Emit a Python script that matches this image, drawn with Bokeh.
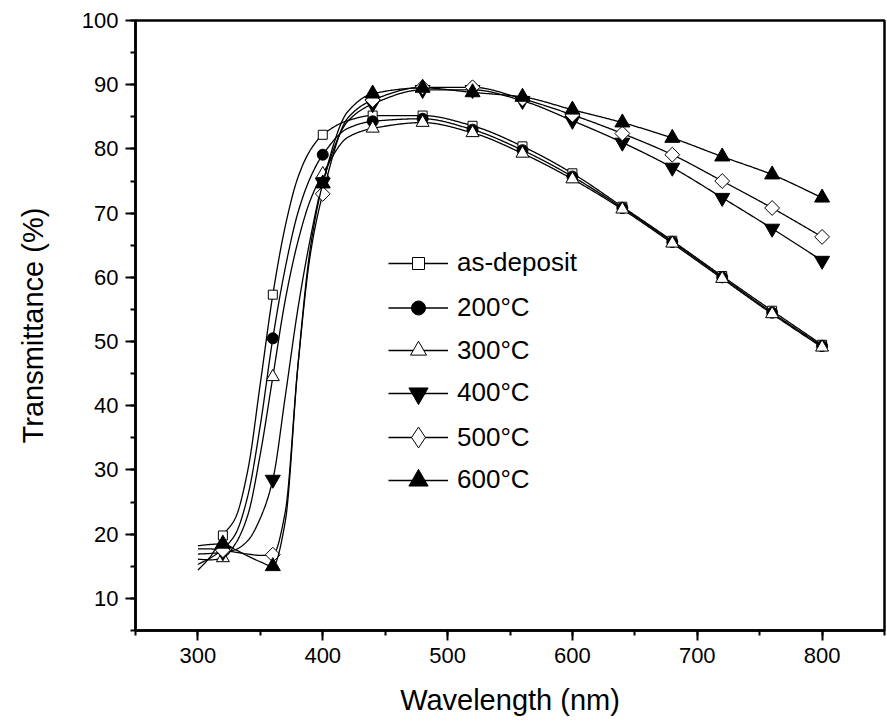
import numpy as np
from bokeh.plotting import figure
from bokeh.models import Range1d, SingleIntervalTicker, Legend, LegendItem, ColumnDataSource
from bokeh.embed import file_html
from bokeh.resources import INLINE

# ---- data ----
# wavelengths at which each spectrum was read (nm)
wavelength = [300, 310, 320, 330, 340, 350, 360, 370, 380, 390, 400, 420, 440,
              480, 520, 560, 600, 640, 680, 720, 760, 800]
# wavelengths that carry a symbol
symbol_wavelength = [320, 360, 400, 440, 480, 520, 560, 600, 640, 680, 720, 760, 800]

as_deposit = [14.4, 16.5, 19.8, 22.5, 30.0, 43.5, 57.3, 68.0, 75.5, 79.8, 82.2, 84.4, 85.2,
              85.2, 83.6, 80.4, 76.2, 71.0, 65.7, 60.2, 54.8, 49.5]
t200 = [15.3, 16.3, 17.7, 20.0, 26.0, 37.0, 50.5, 61.5, 70.0, 75.5, 79.1, 83.2, 84.3,
        84.7, 83.0, 79.8, 75.7, 70.8, 65.5, 60.0, 54.5, 49.3]
t300 = [16.1, 16.0, 16.3, 18.5, 23.0, 32.5, 44.5, 56.5, 65.5, 72.0, 76.1, 81.8, 83.2,
        84.1, 82.5, 79.3, 75.3, 70.6, 65.3, 59.8, 54.3, 49.1]
t400 = [16.9, 17.0, 17.2, 17.6, 19.0, 22.5, 28.5, 41.5, 55.0, 66.0, 74.8, 84.3, 87.0,
        89.2, 89.2, 87.5, 84.4, 81.0, 77.1, 72.4, 67.6, 62.6]
t500 = [17.7, 17.7, 17.5, 17.2, 16.9, 16.7, 16.8, 23.5, 46.0, 63.5, 73.0, 84.8, 87.6,
        89.6, 89.6, 87.8, 85.3, 82.4, 79.1, 75.0, 70.8, 66.3]
t600 = [18.2, 18.4, 18.5, 17.6, 16.6, 15.7, 15.0, 22.0, 46.0, 64.5, 74.6, 85.8, 88.6,
        89.5, 88.8, 88.1, 86.1, 84.1, 81.7, 78.8, 76.0, 72.4]
labels = ["as-deposit", "200°C", "300°C", "400°C", "500°C", "600°C"]
series = [as_deposit, t200, t300, t400, t500, t600]

FONT = "Liberation Sans"


def pchip(x, y, xs):
    """Monotone cubic (Fritsch-Carlson) curve through the read points."""
    x = np.asarray(x, float)
    y = np.asarray(y, float)
    h = np.diff(x)
    d = np.diff(y) / h
    n = len(x)
    m = np.zeros(n)
    for i in range(1, n - 1):
        if d[i - 1] * d[i] <= 0:
            m[i] = 0.0
        else:
            w1 = 2 * h[i] + h[i - 1]
            w2 = h[i] + 2 * h[i - 1]
            m[i] = (w1 + w2) / (w1 / d[i - 1] + w2 / d[i])
    m[0] = d[0]
    m[-1] = d[-1]
    idx = np.clip(np.searchsorted(x, xs) - 1, 0, n - 2)
    hh = h[idx]
    t = (xs - x[idx]) / hh
    h00 = 2 * t ** 3 - 3 * t ** 2 + 1
    h10 = t ** 3 - 2 * t ** 2 + t
    h01 = -2 * t ** 3 + 3 * t ** 2
    h11 = t ** 3 - t ** 2
    return h00 * y[idx] + h10 * hh * m[idx] + h01 * y[idx + 1] + h11 * hh * m[idx + 1]


p = figure(width=887, height=725, output_backend="svg", toolbar_location=None,
           x_range=Range1d(250, 850), y_range=Range1d(5, 100),
           min_border_left=135, min_border_right=3, min_border_top=20, min_border_bottom=95)
p.background_fill_color = "white"
p.border_fill_color = "white"
p.grid.visible = False
p.outline_line_color = "black"
p.outline_line_width = 2.5

p.xaxis.ticker = SingleIntervalTicker(interval=100, num_minor_ticks=2)
p.yaxis.ticker = SingleIntervalTicker(interval=10, num_minor_ticks=2)
for ax in (p.xaxis[0], p.yaxis[0]):
    ax.axis_line_width = 2.5
    ax.major_tick_line_width = 2
    ax.minor_tick_line_width = 2
    ax.major_tick_out = 10
    ax.major_tick_in = 0
    ax.minor_tick_out = 5
    ax.minor_tick_in = 0
    ax.major_label_text_font = FONT
    ax.major_label_text_font_size = "22px"
    ax.major_label_text_color = "black"
    ax.major_label_standoff = 7
    ax.axis_label_text_font = FONT
    ax.axis_label_text_font_size = "29px"
    ax.axis_label_text_font_style = "normal"
    ax.axis_label_text_color = "black"
p.xaxis.axis_label = "Wavelength (nm)"
p.yaxis.axis_label = "Transmittance (%)"
p.xaxis.axis_label_standoff = 18
p.yaxis.axis_label_standoff = 30

# marker styles: (plot marker, plot size, legend size, fill, angle)
styles = [
    ("square", 9, 12, "white", 0.0),
    ("circle", 11, 14, "black", 0.0),
    ("triangle", 13, 16, "white", 0.0),
    ("inverted_triangle", 15, 19, "black", 0.0),
    ("square", 10.5, 21, "white", np.pi / 4),
    ("triangle", 15, 19, "black", 0.0),
]

xs = np.linspace(300, 800, 800)
row_centers = [263, 307, 350, 393, 437, 480]
frame_bottom = 630

for k, (lab, vals) in enumerate(zip(labels, series)):
    mk, sz, lsz, fill, ang = styles[k]
    ys = pchip(wavelength, vals, xs)
    lr = p.line(xs, ys, line_color="black", line_width=1.3)
    sym_y = [vals[wavelength.index(w)] for w in symbol_wavelength]
    src = ColumnDataSource(dict(x=symbol_wavelength, y=sym_y))
    if ang != 0.0:
        # upright diamond (fits inside the rotated square) used for the key
        key_sym = p.scatter("x", "y", source=src, marker="diamond", size=13,
                            fill_color=fill, line_color="black", line_width=1)
        p.scatter("x", "y", source=src, marker=mk, size=sz, angle=ang,
                  fill_color=fill, line_color="black", line_width=1)
    else:
        key_sym = p.scatter("x", "y", source=src, marker=mk, size=sz,
                            fill_color=fill, line_color="black", line_width=1)
    gh = lsz / 0.4
    leg = Legend(items=[LegendItem(label=lab, renderers=[lr, key_sym])],
                 location=(388 - 135, frame_bottom - row_centers[k] - gh / 2),
                 glyph_width=60, glyph_height=int(round(gh)), label_height=int(round(gh)),
                 label_standoff=9, padding=0, margin=0, spacing=0,
                 border_line_alpha=0, background_fill_alpha=0,
                 label_text_font=FONT, label_text_font_size="26px", label_text_color="black")
    p.add_layout(leg, "center")

open("out.html", "w").write(file_html(p, INLINE))
